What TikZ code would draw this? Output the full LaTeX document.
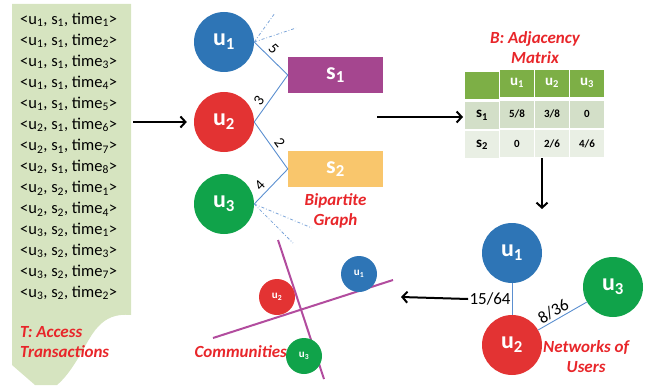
\documentclass[tikz,border=0pt]{standalone}
\usepackage{fontspec}
\setmainfont{Carlito}
\usetikzlibrary{positioning, calc, matrix, arrows.meta}

\definecolor{ublue}{HTML}{2E75B6}
\definecolor{ured}{HTML}{E33333}
\definecolor{ugreen}{HTML}{10A34A}
\definecolor{spurple}{HTML}{A5468F}
\definecolor{sorange}{HTML}{F9C66C}
\definecolor{edgeblue}{HTML}{5B8FD0}
\definecolor{panelgreen}{HTML}{D6E4C0}
\definecolor{hdgreen}{HTML}{7DAF46}
\definecolor{rowone}{HTML}{D3DFC8}
\definecolor{rowtwo}{HTML}{E9EFE4}
\definecolor{commline}{HTML}{B24C9E}
\definecolor{labred}{HTML}{E8262A}

\tikzset{
	user/.style={circle, fill=#1, minimum size=60pt, inner sep=0pt, text=white, font=\fontsize{24}{24}\selectfont\bfseries},
	smalluser/.style={circle, fill=#1, minimum size=36pt, inner sep=0pt, text=white, font=\fontsize{11}{11}\selectfont\bfseries},
	service/.style={rectangle, fill=#1, minimum width=95pt, minimum height=36pt, inner sep=0pt, text=white, font=\fontsize{24}{24}\selectfont\bfseries},
	tag/.style={text=labred, font=\fontsize{17}{20}\selectfont\bfseries\itshape, align=center, inner sep=0pt},
	link/.style={draw=edgeblue, line width=0.9pt},
	hint/.style={draw=edgeblue!80, line width=0.8pt, dash dot},
	flow/.style={line width=2pt, -{Straight Barb[length=5pt, width=11pt, line width=2pt]}},
	cut/.style={draw=commline, line width=2pt}
}

\begin{document}
\begin{tikzpicture}[x=1pt, y=-1pt]
	\useasboundingbox (0,0) rectangle (655,385);

	% T: access transactions
	\fill[panelgreen] (12,4) -- (131,4) -- (131,315)
		.. controls (100,312) and (92,335) .. (80,355)
		.. controls (70,372) and (63,380) .. (57,385) -- (35,385) -- (12,365) -- cycle;
	\foreach \u/\s/\t [count=\i] in {1/1/1, 1/1/2, 1/1/3, 1/1/4, 1/1/5, 2/1/6, 2/1/7, 2/1/8, 2/2/1, 2/2/4, 3/2/1, 3/2/3, 3/2/7, 3/2/2}
		\node[anchor=west, inner sep=0pt, font=\fontsize{16.5}{18}\selectfont] (tr\i) at (20,{20+21*(\i-1)})
			{<u\textsubscript{\u}, s\textsubscript{\s}, time\textsubscript{\t}>};
	\node[tag, align=left, anchor=north west] (ttag) at (20,326) {T: Access\\Transactions};
	\coordinate (tout) at (133,122);

	% bipartite graph
	\node[user=ublue] (u1) at (224,42) {u\textsubscript{1}};
	\node[user=ured] (u2) at (224,122) {u\textsubscript{2}};
	\node[user=ugreen] (u3) at (224,204) {u\textsubscript{3}};
	\node[service=spurple] (s1) at (335.5,75) {s\textsubscript{1}};
	\node[service=sorange] (s2) at (335.5,169) {s\textsubscript{2}};
	\node[tag, below=6pt of s2] (bptag) {Bipartite\\Graph};

	\draw[link] (u1.east) -- node[pos=0.4, above, sloped, text=black, font=\fontsize{15}{15}\selectfont] {5} (s1.west);
	\draw[link] (u2.east) -- node[pos=0.35, above, sloped, text=black, font=\fontsize{15}{15}\selectfont] {3} (s1.west);
	\draw[link] (u2.east) -- node[pos=0.55, above, sloped, text=black, font=\fontsize{15}{15}\selectfont] {2} (s2.west);
	\draw[link] (u3.east) -- node[pos=0.35, above, sloped, text=black, font=\fontsize{15}{15}\selectfont] {4} (s2.west);
	\coordinate (h1) at (275,13);
	\coordinate (h2) at (296,28);
	\coordinate (h3) at (312,228);
	\coordinate (h4) at (293,243);
	\draw[hint] (u1.east) -- (h1);
	\draw[hint] (u1.east) -- (h2);
	\draw[hint] (u3.east) -- (h3);
	\draw[hint] (u3.east) -- (h4);

	\draw[flow, shorten >=7pt] (tout) -- (u2.west);

	% B: adjacency matrix
	\node[tag] (btag) at (535,48) {B: Adjacency\\Matrix};
	\matrix (M) [matrix of nodes, nodes in empty cells, column sep=1.5pt, row sep=1.5pt,
		nodes={minimum width=33.5pt, minimum height=27pt, inner sep=0pt, font=\fontsize{11}{11}\selectfont\bfseries},
		row 1/.style={nodes={fill=hdgreen, text=white, font=\fontsize{15}{15}\selectfont\bfseries}},
		row 2/.style={nodes={fill=rowone}},
		row 3/.style={nodes={fill=rowtwo}}] at (534.5,114) {
			 & u\textsubscript{1} & u\textsubscript{2} & u\textsubscript{3} \\
			|[font=\fontsize{15}{15}\selectfont\bfseries]| s\textsubscript{1} & 5/8 & 3/8 & 0 \\
			|[font=\fontsize{15}{15}\selectfont\bfseries]| s\textsubscript{2} & 0 & 2/6 & 4/6 \\
		};
	\coordinate (bpout) at (377,117);
	\coordinate (min) at (463,117);
	\draw[flow] (bpout) -- (min);

	% networks of users
	\node[user=ublue] (n1) at (512,253) {u\textsubscript{1}};
	\node[user=ured] (n2) at (512,345) {u\textsubscript{2}};
	\node[user=ugreen] (n3) at (613,287) {u\textsubscript{3}};
	\draw[link] (n1) -- node[left=0pt, text=black, font=\fontsize{17}{17}\selectfont, inner sep=1pt] (w12) {15/64} (n2);
	\draw[link] (n2) -- node[pos=0.4, above=1pt, sloped, text=black, font=\fontsize{17}{17}\selectfont, inner sep=1pt] {8/36} (n3);
	\node[tag, anchor=west] (ntag) at (543,357) {Networks of\\Users};
	\coordinate (mtop) at (542,158);
	\coordinate (mout) at (542,209);
	\draw[flow] (mtop) -- (mout);

	% communities
	\draw[cut] (278,240) -- (324,379);
	\draw[cut] (213,338) -- (393,280);
	\node[smalluser=ublue] (c1) at (359,274) {u\textsubscript{1}};
	\node[smalluser=ured] (c2) at (277,297) {u\textsubscript{2}};
	\node[smalluser=ugreen] (c3) at (304,356) {u\textsubscript{3}};
	\node[tag, anchor=east] (ctag) at (287,352) {Communities};
	\coordinate (cin) at (401,297);
	\draw[flow] (w12.west) -- (cin);
\end{tikzpicture}
\end{document}
